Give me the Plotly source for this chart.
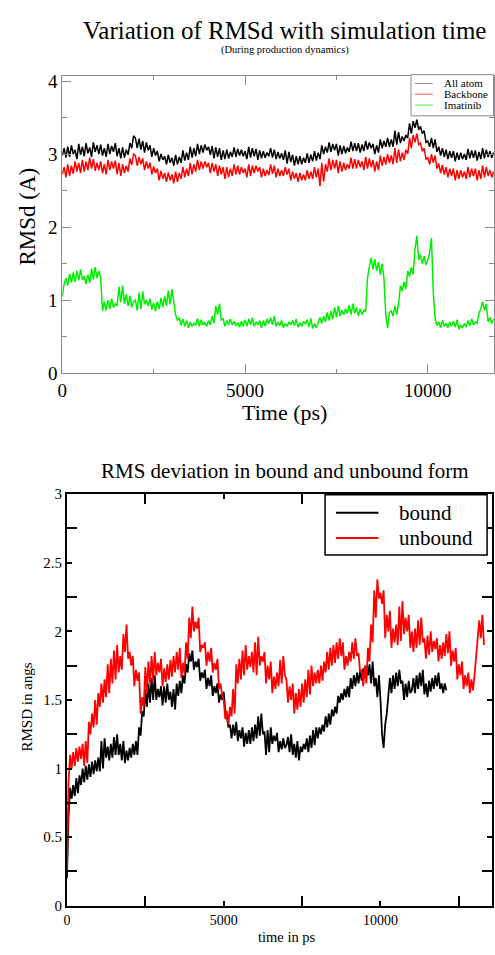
import plotly.graph_objects as go

# ---------------- data ----------------
TIME_STEP_PS = 50  # sampling of the hand-read series

# Top panel: RMSd during production dynamics (Å), t = 0 .. 11800 ps
all_atom = [
    2.98, 3.08, 2.95, 3.10, 2.96, 3.12, 3.00, 3.06, 2.93, 3.14, 2.99, 3.10, 2.97, 3.15, 3.01, 3.09, 2.96, 3.16, 3.03, 3.12,
    3.00, 3.13, 2.98, 3.08, 2.96, 3.14, 3.00, 3.11, 3.03, 3.15, 2.97, 3.08, 2.94, 3.09, 2.95, 3.06, 2.99, 3.15, 3.08, 3.25,
    3.22, 3.08, 3.21, 3.06, 3.18, 3.02, 3.16, 3.05, 3.12, 2.96, 3.08, 2.98, 3.04, 2.90, 3.00, 2.92, 2.97, 2.86, 2.99, 2.88,
    2.95, 2.84, 2.99, 2.86, 2.96, 2.88, 3.05, 2.91, 3.02, 2.92, 3.10, 2.95, 3.08, 2.97, 3.14, 3.00, 3.12, 3.02, 3.13, 3.05,
    3.10, 2.99, 3.11, 2.94, 3.09, 2.96, 3.08, 2.92, 3.05, 2.93, 3.06, 2.94, 3.03, 2.96, 3.09, 2.96, 3.07, 2.98, 3.06, 2.97,
    3.04, 2.93, 3.10, 2.95, 3.08, 2.97, 3.07, 2.92, 3.05, 2.94, 3.04, 2.95, 3.02, 2.97, 3.08, 2.95, 3.06, 2.93, 3.03, 2.94,
    3.01, 2.92, 3.05, 2.87, 3.03, 2.89, 2.99, 2.84, 2.97, 2.86, 2.97, 2.86, 2.95, 2.88, 3.01, 2.88, 2.99, 2.90, 3.04, 2.91,
    3.02, 2.93, 3.12, 3.00, 3.10, 3.02, 3.16, 3.03, 3.14, 3.05, 3.14, 2.98, 3.12, 3.00, 3.11, 3.01, 3.09, 3.03, 3.17, 3.04,
    3.15, 3.04, 3.15, 3.02, 3.13, 3.04, 3.18, 3.06, 3.16, 3.08, 3.14, 3.00, 3.12, 3.02, 3.20, 3.08, 3.18, 3.10, 3.22, 3.10,
    3.20, 3.10, 3.32, 3.13, 3.30, 3.15, 3.24, 3.18, 3.26, 3.22, 3.42, 3.28, 3.45, 3.36, 3.47, 3.33, 3.38, 3.28, 3.32, 3.16,
    3.18, 3.10, 3.22, 3.08, 3.20, 3.03, 3.10, 2.98, 3.08, 2.96, 3.06, 2.93, 3.04, 2.95, 3.04, 2.90, 3.02, 2.92, 3.02, 2.93,
    3.00, 2.92, 3.07, 2.94, 3.05, 2.95, 3.05, 2.91, 3.03, 2.93, 3.08, 2.94, 3.06, 2.96, 3.04, 2.95, 3.02,
]
backbone = [
    2.72, 2.82, 2.68, 2.86, 2.70, 2.84, 2.73, 2.90, 2.76, 2.88, 2.74, 2.92, 2.76, 2.90, 2.78, 2.95, 2.80, 2.93, 2.77, 2.88,
    2.78, 2.90, 2.74, 2.86, 2.72, 2.92, 2.78, 2.90, 2.80, 2.91, 2.72, 2.88, 2.70, 2.86, 2.74, 2.84, 2.76, 2.94, 2.85, 3.00,
    2.98, 2.84, 2.96, 2.86, 2.94, 2.78, 2.90, 2.80, 2.88, 2.72, 2.83, 2.74, 2.80, 2.64, 2.77, 2.66, 2.74, 2.62, 2.75, 2.64,
    2.72, 2.60, 2.76, 2.62, 2.74, 2.66, 2.82, 2.68, 2.80, 2.70, 2.88, 2.72, 2.86, 2.76, 2.92, 2.78, 2.90, 2.80, 2.90, 2.82,
    2.88, 2.74, 2.88, 2.76, 2.86, 2.70, 2.84, 2.72, 2.82, 2.66, 2.82, 2.68, 2.80, 2.70, 2.86, 2.72, 2.84, 2.72, 2.82, 2.74,
    2.80, 2.68, 2.86, 2.70, 2.84, 2.74, 2.84, 2.76, 2.82, 2.68, 2.80, 2.70, 2.78, 2.71, 2.86, 2.73, 2.84, 2.68, 2.80, 2.70,
    2.78, 2.70, 2.82, 2.72, 2.80, 2.64, 2.76, 2.66, 2.74, 2.62, 2.74, 2.64, 2.72, 2.64, 2.78, 2.66, 2.76, 2.66, 2.82, 2.68,
    2.80, 2.56, 2.88, 2.62, 2.86, 2.76, 2.94, 2.78, 2.92, 2.80, 2.92, 2.74, 2.90, 2.76, 2.88, 2.78, 2.86, 2.80, 2.95, 2.80,
    2.93, 2.80, 2.92, 2.82, 2.90, 2.78, 2.96, 2.80, 2.94, 2.82, 2.92, 2.76, 2.90, 2.78, 2.98, 2.84, 2.96, 2.86, 3.00, 2.88,
    2.98, 2.86, 3.08, 2.88, 3.06, 2.90, 3.02, 2.92, 3.06, 3.00, 3.22, 3.08, 3.26, 3.16, 3.28, 3.13, 3.15, 3.04, 3.08, 2.93,
    2.95, 2.86, 3.00, 2.88, 2.98, 2.80, 2.87, 2.74, 2.85, 2.72, 2.82, 2.68, 2.80, 2.70, 2.80, 2.64, 2.78, 2.66, 2.78, 2.68,
    2.76, 2.66, 2.82, 2.68, 2.80, 2.70, 2.80, 2.64, 2.78, 2.66, 2.84, 2.68, 2.82, 2.70, 2.78, 2.68, 2.76,
]
imatinib = [
    1.05, 1.22, 1.30, 1.20, 1.36, 1.24, 1.38, 1.25, 1.40, 1.27, 1.42, 1.28, 1.33, 1.22, 1.35, 1.24, 1.43, 1.28, 1.45, 1.30,
    1.40, 1.30, 0.85, 0.98, 0.86, 1.00, 0.88, 1.02, 0.90, 0.95, 0.92, 1.18, 0.97, 1.20, 0.95, 1.08, 0.92, 1.06, 0.90, 0.98,
    1.00, 0.86, 1.10, 0.88, 1.12, 0.94, 1.00, 0.92, 1.02, 0.87, 0.96, 0.85, 0.98, 0.88, 1.03, 0.90, 1.05, 0.92, 1.13, 0.94,
    1.15, 0.95, 0.80, 0.72, 0.76, 0.65, 0.74, 0.64, 0.72, 0.62, 0.70, 0.64, 0.68, 0.66, 0.75, 0.64, 0.73, 0.66, 0.70, 0.64,
    0.72, 0.66, 0.78, 0.68, 0.92, 0.80, 0.95, 0.72, 0.75, 0.64, 0.72, 0.66, 0.74, 0.66, 0.71, 0.65, 0.69, 0.63, 0.71, 0.64,
    0.73, 0.64, 0.74, 0.66, 0.76, 0.64, 0.70, 0.66, 0.72, 0.62, 0.72, 0.64, 0.74, 0.68, 0.76, 0.66, 0.78, 0.64, 0.70, 0.65,
    0.72, 0.62, 0.68, 0.64, 0.70, 0.66, 0.72, 0.65, 0.74, 0.63, 0.69, 0.64, 0.71, 0.67, 0.73, 0.63, 0.75, 0.61, 0.68, 0.62,
    0.70, 0.76, 0.68, 0.78, 0.70, 0.83, 0.72, 0.85, 0.74, 0.90, 0.76, 0.92, 0.78, 0.86, 0.80, 0.88, 0.82, 0.93, 0.80, 0.95,
    0.82, 0.90, 0.78, 0.88, 0.80, 0.86, 0.84, 1.30, 1.45, 1.58, 1.42, 1.56, 1.40, 1.52, 1.35, 1.50, 1.30, 0.80, 0.62, 0.83,
    0.85, 0.78, 0.92, 0.80, 0.95, 1.20, 1.12, 1.25, 1.15, 1.40, 1.32, 1.45, 1.35, 1.70, 1.88, 1.55, 1.62, 1.50, 1.60, 1.48,
    1.55, 1.65, 1.85, 1.10, 0.75, 0.65, 0.70, 0.62, 0.72, 0.64, 0.68, 0.62, 0.70, 0.64, 0.71, 0.63, 0.73, 0.60, 0.66, 0.62,
    0.68, 0.63, 0.72, 0.65, 0.74, 0.66, 0.70, 0.68, 0.82, 0.88, 0.98, 0.86, 0.95, 0.70, 0.76, 0.68, 0.74,
]

# Bottom panel: RMS deviation (Å); bound t = 0 .. 12100 ps, unbound t = 0 .. 13300 ps
bound = [
    0.20, 0.65, 0.86, 0.78, 0.88, 0.80, 0.93, 0.82, 0.95, 0.88, 1.00, 0.90, 1.02, 0.92, 1.03, 0.94, 1.05, 0.96, 1.06, 0.98,
    1.08, 0.98, 1.20, 1.00, 1.22, 1.08, 1.16, 1.06, 1.18, 1.08, 1.23, 1.10, 1.25, 1.10, 1.18, 1.06, 1.20, 1.04, 1.13, 1.06,
    1.15, 1.08, 1.18, 1.10, 1.20, 1.10, 1.30, 1.24, 1.42, 1.38, 1.58, 1.45, 1.62, 1.48, 1.66, 1.50, 1.68, 1.50, 1.58, 1.52,
    1.60, 1.46, 1.60, 1.48, 1.62, 1.50, 1.56, 1.45, 1.58, 1.43, 1.62, 1.53, 1.64, 1.55, 1.68, 1.62, 1.76, 1.70, 1.84, 1.78,
    1.86, 1.72, 1.78, 1.74, 1.80, 1.64, 1.70, 1.66, 1.72, 1.58, 1.66, 1.60, 1.68, 1.53, 1.60, 1.55, 1.62, 1.48, 1.54, 1.50,
    1.56, 1.42, 1.38, 1.30, 1.32, 1.22, 1.32, 1.24, 1.34, 1.20, 1.28, 1.22, 1.30, 1.16, 1.26, 1.18, 1.28, 1.18, 1.30, 1.20,
    1.32, 1.22, 1.38, 1.24, 1.40, 1.25, 1.27, 1.10, 1.28, 1.12, 1.30, 1.18, 1.24, 1.20, 1.26, 1.12, 1.20, 1.14, 1.22, 1.15,
    1.17, 1.23, 1.12, 1.25, 1.10, 1.18, 1.08, 1.20, 1.06, 1.16, 1.12, 1.18, 1.14, 1.22, 1.12, 1.24, 1.15, 1.28, 1.17, 1.30,
    1.22, 1.30, 1.25, 1.32, 1.27, 1.38, 1.30, 1.40, 1.32, 1.43, 1.38, 1.45, 1.40, 1.53, 1.48, 1.55, 1.50, 1.58, 1.52, 1.60,
    1.52, 1.66, 1.58, 1.68, 1.60, 1.70, 1.62, 1.72, 1.64, 1.73, 1.66, 1.75, 1.68, 1.76, 1.62, 1.78, 1.60, 1.66, 1.52, 1.68,
    1.50, 1.25, 1.15, 1.32, 1.40, 1.52, 1.66, 1.55, 1.68, 1.58, 1.70, 1.60, 1.72, 1.62, 1.64, 1.50, 1.62, 1.52, 1.64, 1.55,
    1.57, 1.66, 1.55, 1.68, 1.58, 1.70, 1.60, 1.72, 1.54, 1.62, 1.52, 1.64, 1.56, 1.66, 1.58, 1.68, 1.60, 1.70, 1.58, 1.62,
    1.55, 1.62, 1.57,
]
unbound = [
    0.25, 0.90, 1.10, 1.00, 1.12, 1.02, 1.15, 1.05, 1.16, 1.07, 1.18, 1.02, 1.20, 1.04, 1.34, 1.25, 1.40, 1.30, 1.50, 1.32,
    1.55, 1.45, 1.62, 1.48, 1.65, 1.52, 1.76, 1.55, 1.80, 1.62, 1.86, 1.65, 1.90, 1.70, 1.82, 1.72, 1.98, 1.85, 2.05, 1.80,
    1.85, 1.75, 1.82, 1.60, 1.72, 1.64, 1.70, 1.40, 1.52, 1.45, 1.74, 1.55, 1.78, 1.62, 1.82, 1.64, 1.85, 1.68, 1.77, 1.70,
    1.80, 1.60, 1.73, 1.63, 1.76, 1.65, 1.79, 1.67, 1.82, 1.70, 1.85, 1.72, 1.88, 1.66, 1.77, 1.69, 1.92, 1.80, 2.10, 1.95,
    2.18, 2.00, 2.07, 2.02, 2.10, 1.85, 1.90, 1.88, 1.92, 1.75, 1.85, 1.78, 1.88, 1.70, 1.77, 1.72, 1.80, 1.58, 1.62, 1.53,
    1.50, 1.36, 1.42, 1.32, 1.45, 1.38, 1.58, 1.40, 1.76, 1.62, 1.80, 1.65, 1.86, 1.68, 1.90, 1.72, 1.82, 1.74, 1.85, 1.70,
    1.92, 1.68, 1.96, 1.75, 1.82, 1.78, 1.85, 1.62, 1.75, 1.65, 1.78, 1.55, 1.67, 1.58, 1.70, 1.60, 1.79, 1.62, 1.82, 1.68,
    1.65, 1.48, 1.60, 1.50, 1.62, 1.40, 1.55, 1.43, 1.58, 1.45, 1.62, 1.48, 1.65, 1.52, 1.72, 1.54, 1.75, 1.60, 1.70, 1.62,
    1.72, 1.62, 1.75, 1.64, 1.78, 1.70, 1.85, 1.72, 1.88, 1.75, 1.90, 1.77, 1.92, 1.80, 1.95, 1.82, 1.92, 1.72, 1.82, 1.75,
    1.85, 1.78, 1.92, 1.80, 1.95, 1.82, 1.84, 1.70, 1.72, 1.60, 1.75, 1.62, 1.88, 1.78, 2.05, 1.92, 2.30, 2.10, 2.38, 2.24,
    2.28, 2.20, 2.30, 1.95, 2.12, 2.00, 2.15, 1.88, 2.02, 1.92, 2.05, 1.90, 2.18, 1.93, 2.22, 1.98, 2.10, 2.00, 2.12, 1.88,
    2.00, 1.85, 2.02, 1.88, 2.08, 1.90, 2.10, 1.92, 1.95, 1.80, 1.97, 1.83, 2.00, 1.85, 1.93, 1.87, 1.95, 1.78, 1.90, 1.80,
    1.92, 1.82, 1.98, 1.84, 2.00, 1.75, 1.86, 1.78, 1.88, 1.65, 1.76, 1.68, 1.78, 1.58, 1.68, 1.60, 1.70, 1.55, 1.65, 1.57,
    1.68, 1.85, 1.95, 2.08, 1.95, 2.12, 1.90,
]

top_labels = ["All atom", "Backbone", "Imatinib"]
bottom_labels = ["bound", "unbound"]
top_x_ticks = [0, 5000, 10000]
top_x_minor = [2500, 7500]
top_y_ticks = [0, 1, 2, 3, 4]
top_y_minor = [0.5, 1.5, 2.5, 3.5]
bot_x_ticks = [0, 5000, 10000]
bot_x_long_ticks = [2500, 7500, 12500]
bot_y_ticks = [0, 0.5, 1, 1.5, 2, 2.5, 3]
bot_y_long_ticks = [0.25, 0.75, 1.25, 1.75, 2.25, 2.75]


def times(values):
    return [i * TIME_STEP_PS for i in range(len(values))]


W, H = 495, 955
SERIF = "Liberation Serif"


def px(x):
    return x / W


def py(y):
    return (H - y) / H


fig = go.Figure()

top_colors = ["#000000", "#ff0000", "#00ee00"]
for name, vals, col in zip(top_labels, [all_atom, backbone, imatinib], top_colors):
    fig.add_trace(go.Scatter(x=times(vals), y=vals, mode="lines", name=name,
                             line=dict(color=col, width=1.5),
                             xaxis="x", yaxis="y", showlegend=False))

bot_colors = ["#000000", "#ff0000"]
for name, vals, col in zip(bottom_labels, [bound, unbound], bot_colors):
    fig.add_trace(go.Scatter(x=times(vals), y=vals, mode="lines", name=name,
                             line=dict(color=col, width=1.8),
                             xaxis="x2", yaxis="y2", showlegend=False))

gray = "#8a8a8a"
fig.update_layout(
    width=W, height=H,
    margin=dict(l=0, r=0, t=0, b=0),
    paper_bgcolor="white", plot_bgcolor="white",
    showlegend=False,
    font=dict(family=SERIF, color="black"),
    xaxis=dict(domain=[px(58), 1.0], range=[0, 11811], anchor="y",
               showgrid=False, zeroline=False, showline=True, linecolor=gray,
               linewidth=1, mirror="ticks", ticks="inside", tickcolor=gray,
               ticklen=9, tickwidth=1, tickvals=top_x_ticks,
               ticktext=[str(v) for v in top_x_ticks],
               tickfont=dict(size=19, family=SERIF, color="black"),
               minor=dict(tickvals=top_x_minor, ticklen=4, tickcolor=gray,
                          ticks="inside", showgrid=False)),
    yaxis=dict(domain=[py(372.5), py(69)], range=[0, 4.074], anchor="x",
               showgrid=False, zeroline=False, showline=True, linecolor=gray,
               linewidth=1, mirror="ticks", ticks="inside", tickcolor=gray,
               ticklen=9, tickwidth=1, tickvals=top_y_ticks,
               ticktext=[str(v) for v in top_y_ticks],
               tickfont=dict(size=19, family=SERIF, color="black"),
               minor=dict(tickvals=top_y_minor, ticklen=5,
                          tickcolor=gray, ticks="inside", showgrid=False)),
    xaxis2=dict(domain=[px(62.7), px(493)], range=[0, 13557], anchor="y2",
                showgrid=False, zeroline=False, showline=True, linecolor="black",
                linewidth=2, mirror="ticks", ticks="inside", tickcolor="black",
                ticklen=5, tickwidth=2, tickvals=bot_x_ticks,
                ticktext=[str(v) for v in bot_x_ticks],
                tickfont=dict(size=14, family=SERIF, color="black"),
                minor=dict(tickvals=bot_x_long_ticks, ticklen=10,
                           tickcolor="black", tickwidth=2, ticks="inside",
                           showgrid=False)),
    yaxis2=dict(domain=[py(916), py(496)], range=[0, 3], anchor="x2",
                showgrid=False, zeroline=False, showline=True, linecolor="black",
                linewidth=2, mirror="ticks", ticks="inside", tickcolor="black",
                ticklen=5, tickwidth=2, tickvals=bot_y_ticks,
                ticktext=[f"{v:g}" for v in bot_y_ticks],
                tickfont=dict(size=15, family=SERIF, color="black"),
                minor=dict(tickvals=bot_y_long_ticks, ticklen=10,
                           tickcolor="black", tickwidth=2, ticks="inside",
                           showgrid=False)),
)

ann = []


def text(x, y, s, size, angle=0, xanchor="center"):
    ann.append(dict(x=px(x), y=py(y), xref="paper", yref="paper", text=s,
                    showarrow=False, textangle=angle, xanchor=xanchor,
                    yanchor="middle", borderpad=0,
                    font=dict(size=size, family=SERIF, color="black")))


text(283, 23, "Variation of RMSd with simulation time", 25)
text(283, 43, "(During production dynamics)", 10.5)
text(283, 413, "Time (ps)", 22)
text(23, 213, "RMSd (A)", 23, angle=-90)
text(283, 472, "RMS deviation in bound and unbound form", 21)
text(285, 948, "time in ps", 14.5)
text(22, 713, "RMSD in angs", 15, angle=-90)

# manual legends
shapes = []
shapes.append(dict(type="rect", xref="paper", yref="paper",
                   x0=px(411), x1=px(494.5), y0=py(110), y1=py(68),
                   line=dict(color=gray, width=1), fillcolor="white",
                   layer="above"))
legend_top_colors = ["#909090", "#ff5050", "#40ee40"]
for i, (lab, col) in enumerate(zip(top_labels, legend_top_colors)):
    yy = 77 + i * 11
    shapes.append(dict(type="line", xref="paper", yref="paper",
                       x0=px(415), x1=px(433), y0=py(yy), y1=py(yy),
                       line=dict(color=col, width=1), layer="above"))
    text(443, yy, lab, 11, xanchor="left")

shapes.append(dict(type="rect", xref="paper", yref="paper",
                   x0=px(324), x1=px(488), y0=py(558), y1=py(496.7),
                   line=dict(color="black", width=1.5), fillcolor="white",
                   layer="above"))
for i, (lab, col) in enumerate(zip(bottom_labels, bot_colors)):
    yy = 515 + i * 25.7
    shapes.append(dict(type="line", xref="paper", yref="paper",
                       x0=px(335), x1=px(378), y0=py(yy), y1=py(yy),
                       line=dict(color=col, width=2), layer="above"))
    text(398, yy, lab, 21, xanchor="left")

fig.update_layout(annotations=ann, shapes=shapes)
fig.write_html("out.html")
